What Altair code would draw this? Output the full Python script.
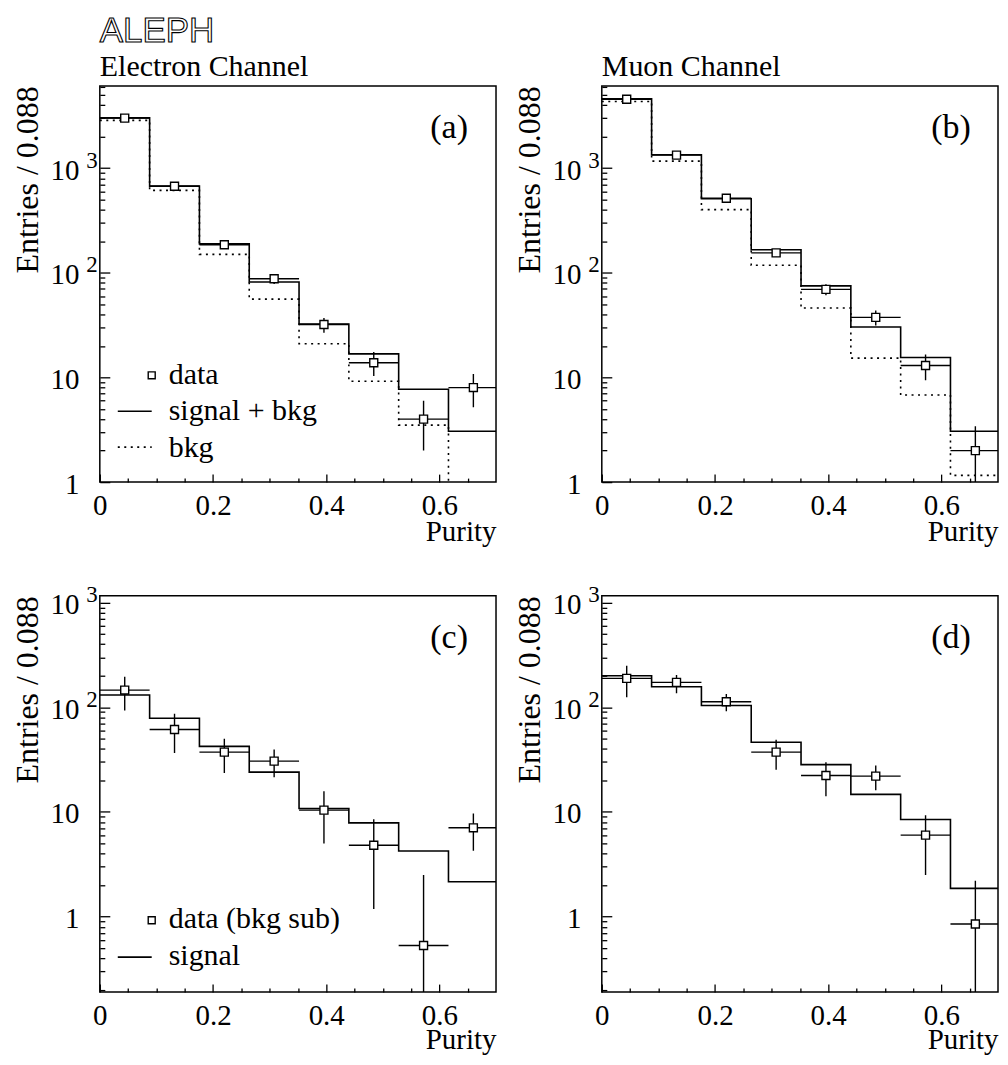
import altair as alt
import pandas as pd

# ---------------- data ----------------
bin_lo = [0.0, 0.088, 0.176, 0.264, 0.352, 0.440, 0.528, 0.616]
bin_hi = [0.088, 0.176, 0.264, 0.352, 0.440, 0.528, 0.616, 0.704]
bin_ctr = [0.044, 0.132, 0.220, 0.308, 0.396, 0.484, 0.572, 0.660]

a_sigbkg = [3020, 673, 189, 81.5, 32.4, 16.8, 7.7, 3.06]
a_bkg = [2855, 612, 150, 56, 21, 9.2, 3.5, 0.5]
a_data = [3000, 670, 185, 87.6, 32, 13.8, 4.0, 8.0]
a_lo = [2945, 644, 171, 78.2, 26.7, 10.3, 2.0, 5.2]
a_hi = [3055, 696, 199, 97.0, 36.9, 17.5, 6.0, 10.8]

b_sigbkg = [4590, 1340, 509, 166, 75, 30.3, 15.5, 3.06]
b_bkg = [4335, 1166, 401, 118, 46, 15.3, 6.8, 1.16]
b_data = [4550, 1330, 515, 155, 69.4, 37.5, 13.0, 2.0]
b_lo = [4483, 1294, 492, 143, 61.1, 31.4, 9.4, 0.59]
b_hi = [4617, 1366, 538, 167, 77.7, 43.6, 16.6, 3.41]

c_signal = [131, 78.6, 42.3, 24, 10.8, 7.86, 4.23, 2.15]
c_data = [146, 61.3, 37.3, 30.6, 10.4, 4.8, 0.53, 7.05]
c_lo = [93, 36.5, 23.5, 21.5, 5.0, 1.18, 0.05, 4.25]
c_hi = [196, 86.5, 50, 39.5, 15.8, 8.5, 2.5, 9.65]

d_signal = [200, 157, 104, 46.4, 28.3, 14.7, 8.47, 1.86]
d_data = [189, 173, 113, 37.3, 22.3, 22, 6.0, 0.85]
d_lo = [124.5, 136, 91.6, 25.3, 14.1, 16.1, 2.5, 0.05]
d_hi = [249, 203.5, 134, 49, 29.9, 27.8, 9.3, 2.2]

x_major = [0, 0.2, 0.4, 0.6]
x_major_labels = ["0", "0.2", "0.4", "0.6"]
x_minor = [0.05, 0.1, 0.15, 0.25, 0.3, 0.35, 0.45, 0.5, 0.55, 0.65]

y_major = [1, 10, 100, 1000]
y_major_labels = ["1", "10", "10", "10"]
y_exp_values = [100, 1000]
y_exp_labels = ["2", "3"]
y_minor_ab = [2, 3, 4, 5, 6, 7, 8, 9, 20, 30, 40, 50, 60, 70, 80, 90,
              200, 300, 400, 500, 600, 700, 800, 900, 2000, 3000, 4000, 5000, 6000]
y_minor_cd = [0.2, 0.3, 0.4, 0.5, 0.6, 0.7, 0.8, 0.9, 2, 3, 4, 5, 6, 7, 8, 9,
              20, 30, 40, 50, 60, 70, 80, 90, 200, 300, 400, 500, 600, 700, 800, 900]

ydom_ab = [1, 6100]
ydom_cd = [0.19, 1160]

SERIF = "Liberation Serif"
W, H = 397, 397
COL_GAP, ROW_GAP = 106, 114


def lookup_expr(values, labels):
    vals = ",".join(str(v) for v in values)
    labs = ",".join("'" + l + "'" for l in labels)
    return f"[{labs}][indexof([{vals}], datum.value)]"


def step_df(vals):
    return pd.DataFrame({"x": bin_lo + [bin_hi[-1]], "y": vals + [vals[-1]]})


def one(txt):
    return pd.DataFrame({"t": [txt]})


def anchor(x1, x2, y):
    # invisible helper that pins the outer bounds of the whole figure
    return alt.Chart(one("")).mark_rule(strokeWidth=1, strokeOpacity=0).encode(
        x=alt.value(x1), x2=alt.value(x2), y=alt.value(y))


def panel(title, tag, ydom, yminor, solid, dotted, data, lo, hi, legend,
          show_aleph, purity_y, anchors):
    xs = alt.Scale(domain=[0, 0.7], nice=False, zero=False)
    ys = alt.Scale(type="log", domain=ydom, nice=False)

    ax_x_lab = alt.Axis(orient="bottom", values=x_major,
                        labelExpr=lookup_expr(x_major, x_major_labels),
                        labelFont=SERIF, labelFontSize=29, labelPadding=9,
                        labelFlush=False, labelOverlap=False, labelColor="black",
                        ticks=False, tickSize=0, domain=False, grid=False,
                        title="Purity", titleFont=SERIF, titleFontSize=29,
                        titleFontWeight="normal", titleColor="black",
                        titleX=W, titleY=purity_y, titleAlign="right",
                        titleBaseline="alphabetic")
    ax_y_lab = alt.Axis(orient="left", values=y_major,
                        labelExpr=lookup_expr(y_major, y_major_labels),
                        labelFont=SERIF, labelFontSize=29, labelPadding=21,
                        labelOffset=2, labelOverlap=False, labelColor="black",
                        labelFlush=False,
                        ticks=False, tickSize=0, domain=False, grid=False,
                        title="Entries / 0.088", titleFont=SERIF, titleFontSize=32,
                        titleFontWeight="normal", titleColor="black",
                        titleX=-62, titleY=0, titleAngle=270, titleAlign="right",
                        titleBaseline="alphabetic")
    ax_y_exp = alt.Axis(orient="left", values=y_exp_values,
                        labelExpr=lookup_expr(y_exp_values, y_exp_labels),
                        labelFont=SERIF, labelFontSize=23, labelPadding=14,
                        labelAlign="left", labelOffset=-8, labelOverlap=False,
                        labelFlush=False, labelColor="black",
                        ticks=False, tickSize=0, domain=False, grid=False, title=None)
    tick_common = dict(labels=False, domain=False, grid=False, ticks=True,
                       tickColor="black", tickWidth=1.3, title=None)
    ax_x_major = alt.Axis(orient="top", offset=-H, values=x_major, tickSize=8, **tick_common)
    ax_x_minor = alt.Axis(orient="top", offset=-H, values=x_minor, tickSize=4, **tick_common)
    ax_y_major = alt.Axis(orient="right", offset=-W, values=y_major, tickSize=10, **tick_common)
    ax_y_minor = alt.Axis(orient="right", offset=-W, values=yminor, tickSize=5, **tick_common)

    pts = pd.DataFrame({"ctr": bin_ctr, "lo_x": bin_lo, "hi_x": bin_hi,
                        "val": data, "lo": lo, "hi": hi})

    hist = alt.Chart(step_df(solid)).mark_line(
        interpolate="step-after", color="black", strokeWidth=1.6, clip=True
    ).encode(x=alt.X("x:Q", scale=xs, axis=ax_x_lab),
             y=alt.Y("y:Q", scale=ys, axis=ax_y_lab))

    herr = alt.Chart(pts).mark_rule(color="black", strokeWidth=1.4, clip=True).encode(
        x=alt.X("lo_x:Q", scale=xs, axis=ax_x_major), x2="hi_x:Q",
        y=alt.Y("val:Q", scale=ys, axis=ax_y_exp))

    verr = alt.Chart(pts).mark_rule(color="black", strokeWidth=1.4, clip=True).encode(
        x=alt.X("ctr:Q", scale=xs, axis=ax_x_minor),
        y=alt.Y("lo:Q", scale=ys, axis=ax_y_major), y2="hi:Q")

    points = alt.Chart(pts).mark_point(
        shape="square", filled=True, fill="white", stroke="black",
        strokeWidth=1.4, size=64, opacity=1, clip=True
    ).encode(x=alt.X("ctr:Q", scale=xs, axis=None),
             y=alt.Y("val:Q", scale=ys, axis=ax_y_minor))

    layers = []
    if dotted is not None:
        layers.append(alt.Chart(step_df(dotted)).mark_line(
            interpolate="step-after", color="black", strokeWidth=1.6,
            strokeDash=[2, 4.5], clip=True
        ).encode(x=alt.X("x:Q", scale=xs, axis=None),
                 y=alt.Y("y:Q", scale=ys, axis=None)))
    layers += [hist, herr, verr, points]

    layers.append(alt.Chart(one(tag)).mark_text(
        font=SERIF, fontSize=34, align="center", baseline="middle", color="black"
    ).encode(x=alt.value(W - 47), y=alt.value(42), text="t:N"))
    if title:
        layers.append(alt.Chart(one(title)).mark_text(
            font=SERIF, fontSize=30, align="left", baseline="alphabetic", color="black"
        ).encode(x=alt.value(0), y=alt.value(-10), text="t:N"))
    if show_aleph:
        layers.append(alt.Chart(one("ALEPH")).mark_text(
            font="Liberation Sans", fontSize=35, align="left", baseline="alphabetic",
            fill="white", stroke="black", strokeWidth=1.1
        ).encode(x=alt.value(0), y=alt.value(-44), text="t:N"))

    if legend is not None:
        for kind, label, ybase, ysym in legend:
            layers.append(alt.Chart(one(label)).mark_text(
                font=SERIF, fontSize=30, align="left", baseline="alphabetic", color="black"
            ).encode(x=alt.value(69), y=alt.value(ybase), text="t:N"))
            if kind == "square":
                layers.append(alt.Chart(one(label)).mark_point(
                    shape="square", filled=True, fill="white", stroke="black",
                    strokeWidth=1.4, size=49, opacity=1
                ).encode(x=alt.value(52), y=alt.value(ysym)))
            elif kind == "solid":
                layers.append(alt.Chart(one(label)).mark_rule(
                    color="black", strokeWidth=1.6
                ).encode(x=alt.value(18), x2=alt.value(52), y=alt.value(ysym)))
            else:
                layers.append(alt.Chart(one(label)).mark_rule(
                    color="black", strokeWidth=1.6, strokeDash=[2, 4.5]
                ).encode(x=alt.value(18), x2=alt.value(52), y=alt.value(ysym)))

    for a in anchors:
        layers.append(anchor(*a))

    return alt.layer(*layers).resolve_axis(x="independent", y="independent").properties(
        width=W, height=H)


legend_a = [("square", "data", 299, 290),
            ("solid", "signal + bkg", 335, 326),
            ("dotted", "bkg", 372, 362)]
legend_c = [("square", "data (bkg sub)", 333, 325),
            ("solid", "signal", 370, 362)]

pa = panel("Electron Channel", "(a)", ydom_ab, y_minor_ab, a_sigbkg, a_bkg,
           a_data, a_lo, a_hi, legend_a, True, 59, [(-96, -95, -90)])
pb = panel("Muon Channel", "(b)", ydom_ab, y_minor_ab, b_sigbkg, b_bkg,
           b_data, b_lo, b_hi, None, False, 59, [(W, W + 1, -90)])
pc = panel(None, "(c)", ydom_cd, y_minor_cd, c_signal, None,
           c_data, c_lo, c_hi, legend_c, False, 57, [(0, 1, H + 64)])
pd_ = panel(None, "(d)", ydom_cd, y_minor_cd, d_signal, None,
            d_data, d_lo, d_hi, None, False, 57, [])

chart = alt.concat(pa, pb, pc, pd_, columns=2, bounds="flush",
                   spacing={"row": ROW_GAP, "column": COL_GAP}).properties(
    padding={"left": -5, "top": -14, "right": 0, "bottom": 0},
    background="white"
).configure_view(stroke="black", strokeWidth=1.5)

chart.save("out.html", embed_options={"renderer": "svg", "actions": False})
